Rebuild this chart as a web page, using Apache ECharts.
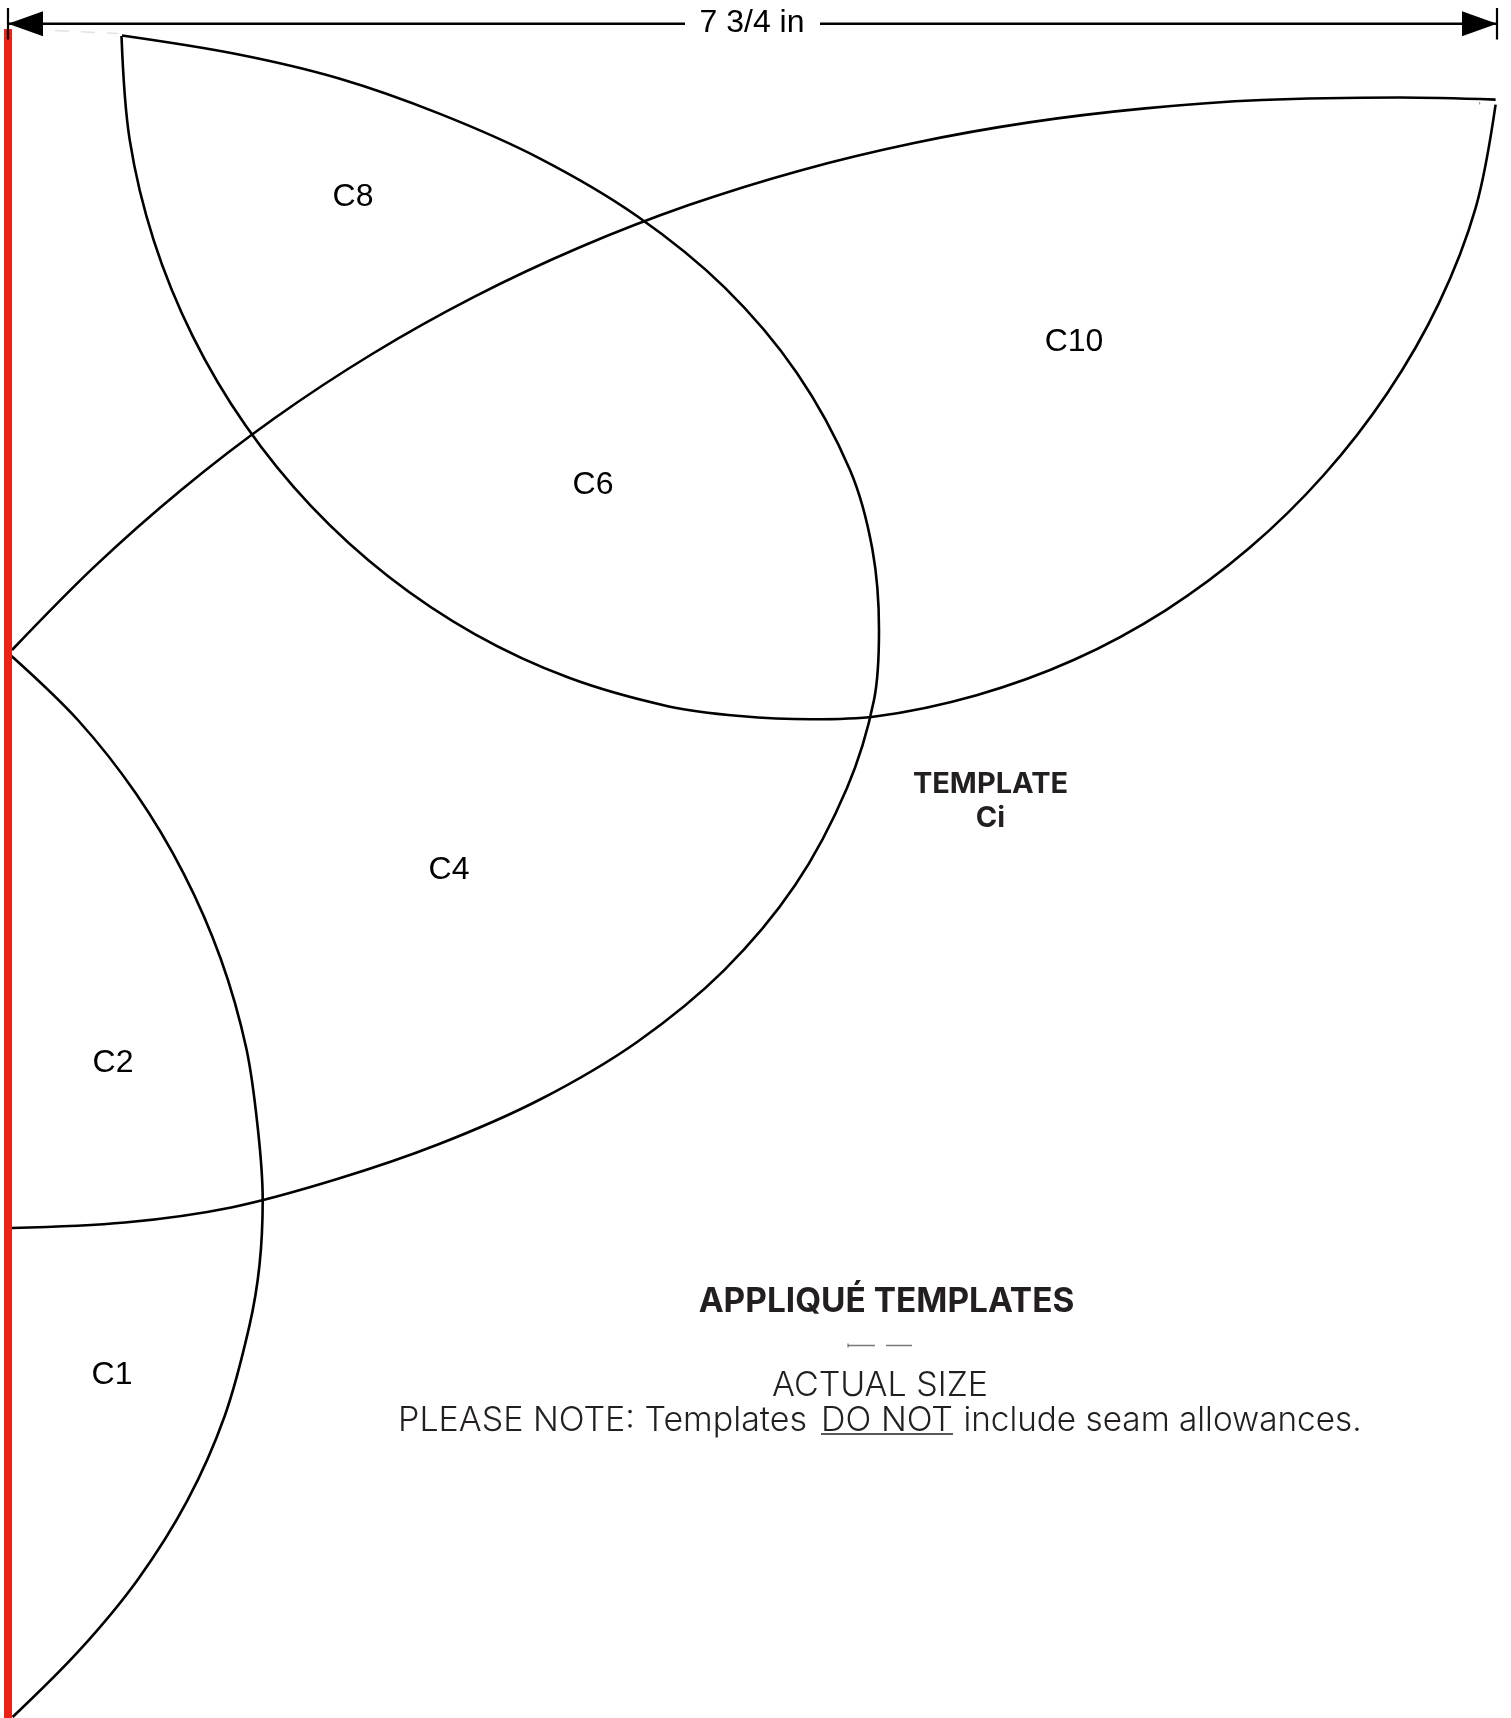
<!DOCTYPE html>
<html>
<head>
<meta charset="utf-8">
<style>html,body{margin:0;padding:0;background:#fff}#c{width:1511px;height:1718px}</style>
<script src="https://cdn.jsdelivr.net/npm/echarts@6/dist/echarts.min.js"></script>
</head>
<body>
<div id="c"></div>
<script>
// Outlines, in sheet units (x to the right, y downward)
const arcOuterC8 = [[122,35.5],[236.2,54],[339.1,78.5],[440,113.9],[540.5,158.8],[637.3,216.2],[724.8,287.6],[796.9,372.9],[850,470],[872.5,550],[879,630],[874,700],[847,788],[795.2,885.1],[724,970.4],[637.5,1041.7],[541,1099],[439.2,1144],[335.6,1179.5],[231.3,1207.4],[124.9,1222.5],[11.5,1228]];
const arcLowerC10 = [[121.5,36],[129.7,139.9],[153.8,240.6],[192.8,336.4],[245.6,425.6],[311.1,506.2],[388.1,576.3],[474.7,634.1],[569,677.8],[668.8,706.4],[740,716],[811,719.3],[875,716.5],[976.6,695.2],[1074.1,659.8],[1165.6,610.3],[1249.3,548.1],[1323.8,475],[1387.4,393],[1438.8,303.4],[1475.8,207.3],[1495.6,104.6]];
const arcUpperC10 = [[12,650],[94.2,566.9],[181.8,489.5],[274.5,418.3],[372.1,354],[474.1,296.9],[579.9,247.3],[688.8,205.1],[800.5,170.4],[914.1,143],[1029.2,122.4],[1145.2,108.4],[1261.8,100],[1400,97.5],[1495.6,99.6]];
const arcC1C2 = [[11.5,656],[78.3,720.5],[136.1,793.8],[183.8,873.8],[220.8,959],[246.3,1048.3],[258,1130],[262.7,1200],[259.5,1265],[249.4,1325.9],[224.8,1415.7],[187.3,1500.7],[137.9,1579.4],[78.6,1651.2],[12.7,1717]];
const foldLine = [[8,29],[8,1718]];
const dimLeft = [[8,23.7],[685,23.7]];
const dimRight = [[820,23.7],[1497,23.7]];
const dimTickLeft = [[8,8],[8,39.5]];
const dimTickRight = [[1497,8],[1497,39.5]];
const dimArrowLeft = [[25.5,23.7]];
const dimArrowRight = [[1479.5,23.7]];
const dimLabel = [[752,23,'7 3/4 in']];
const pieceLabels = [[353,197.5,'C8'],[1074,342,'C10'],[593,485.5,'C6'],[449,870.5,'C4'],[113,1063,'C2'],[112,1375,'C1']];
const templateLabels = [[990.5,784,'TEMPLATE'],[990.5,818,'Ci']];
const headingLabels = [[886.5,1301.5,'APPLIQUÉ TEMPLATES']];
const lightLabels = [[880,1386,'ACTUAL SIZE'],[602.5,1421,'PLEASE NOTE: Templates'],[887,1421,'DO NOT']];
const lightTail = [[1162.5,1421,'include seam allowances.']];
const underline = [[821,1434],[953,1434]];
const dashOne = [[848,1345.5],[875,1345.5]];
const dashTwo = [[886,1345.5],[912,1345.5]];
const dashTick = [[848,1343.5],[848,1347.5]];
const faintTrace = [[55,30.5],[118,33.5]];
const specTick = [[1479.7,102],[1479.7,104.5]];

const BLACK = '#000000', INK = '#231f20';
const line = (data, color, width, smooth) => ({
  type:'line', data, symbol:'none', clip:false, silent:true, smooth: smooth ? 0.34 : false,
  lineStyle:{color, width, opacity:1, cap:'butt', join:'round'}
});
const text = (data, font, size, weight, color) => ({
  type:'scatter', data, symbol:'circle', symbolSize:1, silent:true, clip:false,
  itemStyle:{color:'rgba(0,0,0,0)', opacity:1},
  label:{show:true, position:'inside', formatter:p=>p.value[2], fontFamily:font, fontSize:size, fontWeight:weight, color, opacity:1}
});
const arrow = (data, rot) => ({
  type:'scatter', data, symbol:'triangle', symbolSize:[25,35], symbolRotate:rot, silent:true, clip:false,
  itemStyle:{color:BLACK, opacity:1}
});
const faint = line(faintTrace,'#e2e2e2',1.5,false);
faint.lineStyle.type = [14,12];

const chart = echarts.init(document.getElementById('c'), null, {renderer:'canvas'});
chart.setOption({
  animation:false, backgroundColor:'#ffffff',
  grid:{left:0,right:0,top:0,bottom:0},
  xAxis:{type:'value',min:0,max:1511,show:false},
  yAxis:{type:'value',min:0,max:1718,inverse:true,show:false},
  series:[
    faint,
    line(arcOuterC8,BLACK,2.6,true),
    line(arcLowerC10,BLACK,2.6,true),
    line(arcUpperC10,BLACK,2.6,true),
    line(arcC1C2,BLACK,2.6,true),
    line(foldLine,'#ee2118',8,false),
    line(dimLeft,BLACK,2.5,false),
    line(dimRight,BLACK,2.5,false),
    line(dimTickLeft,BLACK,2.2,false),
    line(dimTickRight,BLACK,2.2,false),
    arrow(dimArrowLeft,90),
    arrow(dimArrowRight,-90),
    text(dimLabel,'"Liberation Sans"',32,400,BLACK),
    text(pieceLabels,'"Liberation Sans"',32,400,BLACK),
    text(templateLabels,'Inter',29,700,INK),
    text(headingLabels,'Inter',33.4,700,INK),
    text(lightLabels,'Inter',34,300,INK),
    text(lightTail,'Inter',33.3,300,INK),
    line(underline,INK,1.6,false),
    line(dashOne,'#777777',1.5,false),
    line(dashTwo,'#777777',1.5,false),
    line(dashTick,'#555555',1,false),
    line(specTick,'#888888',1,false)
  ]
});
</script>
</body>
</html>
